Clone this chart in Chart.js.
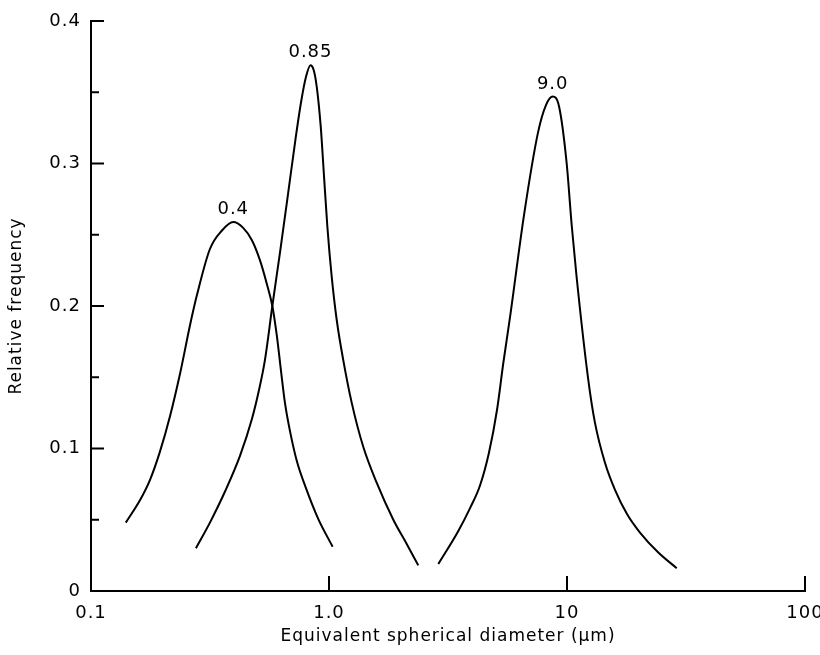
<!DOCTYPE html>
<html>
<head>
<meta charset="utf-8">
<script src="https://cdn.jsdelivr.net/npm/chart.js@4/dist/chart.umd.min.js"></script>
<style>
  html, body { margin: 0; padding: 0; background: #fff; }
  #wrap { width: 820px; height: 655px; }
</style>
</head>
<body>
<div id="wrap"><canvas id="sizeChart" width="820" height="655"></canvas></div>
<script>
// Peak labels (modal diameters, um)
const peakLabels = ['0.4', '0.85', '9.0'];

// Curves: diameter (um) and relative frequency
const diam04 = [0.140, 0.161, 0.177, 0.195, 0.215, 0.237, 0.261, 0.279, 0.316, 0.355, 0.396, 0.435, 0.475, 0.513, 0.547, 0.578, 0.605, 0.629, 0.653, 0.686, 0.733, 0.801, 0.899, 1.036];
const freq04 = [0.048, 0.064, 0.078, 0.098, 0.123, 0.153, 0.187, 0.208, 0.240, 0.253, 0.259, 0.255, 0.246, 0.232, 0.216, 0.200, 0.178, 0.154, 0.132, 0.112, 0.091, 0.072, 0.051, 0.031];

const diam085 = [0.276, 0.316, 0.366, 0.423, 0.475, 0.508, 0.538, 0.578, 0.623, 0.667, 0.723, 0.763, 0.801, 0.836, 0.861, 0.888, 0.923, 0.953, 0.984, 1.026, 1.078, 1.148, 1.246, 1.394, 1.586, 1.863, 2.121, 2.372];
const freq085 = [0.030, 0.048, 0.070, 0.095, 0.121, 0.141, 0.162, 0.200, 0.238, 0.274, 0.317, 0.343, 0.361, 0.369, 0.366, 0.354, 0.326, 0.291, 0.256, 0.221, 0.190, 0.162, 0.132, 0.101, 0.076, 0.050, 0.033, 0.018];

const diam9 = [2.88, 3.49, 3.91, 4.31, 4.70, 5.08, 5.40, 5.76, 6.60, 7.56, 8.16, 8.71, 9.26, 9.97, 10.46, 10.98, 12.29, 13.11, 14.44, 15.91, 17.87, 20.26, 24.19, 28.91];
const freq9 = [0.019, 0.042, 0.058, 0.074, 0.097, 0.127, 0.160, 0.192, 0.264, 0.322, 0.341, 0.347, 0.340, 0.300, 0.257, 0.220, 0.148, 0.118, 0.090, 0.071, 0.054, 0.041, 0.027, 0.016];

// Axis ticks
const xTicks = [0.1, 1, 10, 100];
const xTickLabels = ['0.1', '1.0', '10', '100'];
const yTickLabels = { '0': '0', '0.1': '0.1', '0.2': '0.2', '0.3': '0.3', '0.4': '0.4' };

const FONT = '"DejaVu Sans", sans-serif';

function toPoints(xs, ys) {
  return xs.map((x, i) => ({ x: x, y: ys[i] }));
}

function curve(xs, ys, label) {
  return {
    label: label,
    data: toPoints(xs, ys),
    borderColor: '#000',
    borderWidth: 2,
    pointRadius: 0,
    fill: false,
    showLine: true,
    cubicInterpolationMode: 'monotone'
  };
}

// wider letter spacing like the original lettering
const spacing = {
  id: 'spacing',
  beforeDraw(chart) { chart.ctx.letterSpacing = '1px'; },
  afterDraw(chart) { chart.ctx.letterSpacing = '0px'; }
};

// inward tick marks and labels over the peaks
const inwardTicks = {
  id: 'inwardTicks',
  afterDraw(chart) {
    const ctx = chart.ctx;
    const xs = chart.scales.x, ys = chart.scales.y;
    const area = chart.chartArea;
    ctx.save();
    ctx.strokeStyle = '#000';
    ctx.lineWidth = 2;
    ys.ticks.forEach(t => {
      const py = ys.getPixelForValue(t.value);
      const major = Math.abs(t.value * 10 - Math.round(t.value * 10)) < 1e-6;
      ctx.beginPath();
      ctx.moveTo(area.left, py);
      ctx.lineTo(area.left + (major ? 13 : 8), py);
      ctx.stroke();
    });
    xs.ticks.forEach(t => {
      const px = xs.getPixelForValue(t.value);
      ctx.beginPath();
      ctx.moveTo(px, area.bottom);
      ctx.lineTo(px, area.bottom - 15);
      ctx.stroke();
    });

    // peak labels
    ctx.fillStyle = '#000';
    ctx.font = '18px ' + FONT;
    ctx.letterSpacing = '1px';
    ctx.textAlign = 'center';
    ctx.textBaseline = 'alphabetic';
    chart.data.datasets.forEach((ds, i) => {
      let top = ds.data[0];
      ds.data.forEach(p => { if (p.y > top.y) top = p; });
      ctx.fillText(peakLabels[i], xs.getPixelForValue(top.x), ys.getPixelForValue(top.y) - 8);
    });
    ctx.restore();
  }
};

new Chart(document.getElementById('sizeChart'), {
  type: 'scatter',
  data: {
    datasets: [
      curve(diam04, freq04, '0.4'),
      curve(diam085, freq085, '0.85'),
      curve(diam9, freq9, '9.0')
    ]
  },
  options: {
    responsive: false,
    animation: false,
    layout: { padding: { top: 21, right: 15, left: 6, bottom: 8 } },
    plugins: {
      legend: { display: false },
      tooltip: { enabled: false }
    },
    scales: {
      x: {
        type: 'logarithmic',
        min: 0.1,
        max: 100,
        afterBuildTicks: s => { s.ticks = xTicks.map(v => ({ value: v })); },
        afterFit: s => { s.height = 56; s.paddingRight = 0; s.paddingLeft = 0; },
        grid: { display: true, drawOnChartArea: false, drawTicks: false },
        border: { display: true, color: '#000', width: 2 },
        ticks: {
          color: '#000',
          font: { family: FONT, size: 18 },
          padding: 12,
          maxRotation: 0,
          autoSkip: false,
          callback: (v, i) => xTickLabels[i]
        },
        title: {
          display: true,
          text: 'Equivalent spherical diameter (μm)',
          color: '#000',
          font: { family: FONT, size: 17 },
          padding: { top: 6, bottom: 0 }
        }
      },
      y: {
        min: 0,
        max: 0.4,
        afterFit: s => { s.width = 85; },
        grid: { display: true, drawOnChartArea: false, drawTicks: false },
        border: { display: true, color: '#000', width: 2 },
        ticks: {
          stepSize: 0.05,
          autoSkip: false,
          color: '#000',
          font: { family: FONT, size: 18 },
          padding: 10,
          callback: v => {
            const k = String(Math.round(v * 100) / 100);
            return yTickLabels[k] !== undefined ? yTickLabels[k] : '';
          }
        },
        title: {
          display: true,
          text: 'Relative frequency',
          color: '#000',
          font: { family: FONT, size: 17 },
          padding: { top: 0, bottom: 0 }
        }
      }
    }
  },
  plugins: [spacing, inwardTicks]
});
</script>
</body>
</html>
